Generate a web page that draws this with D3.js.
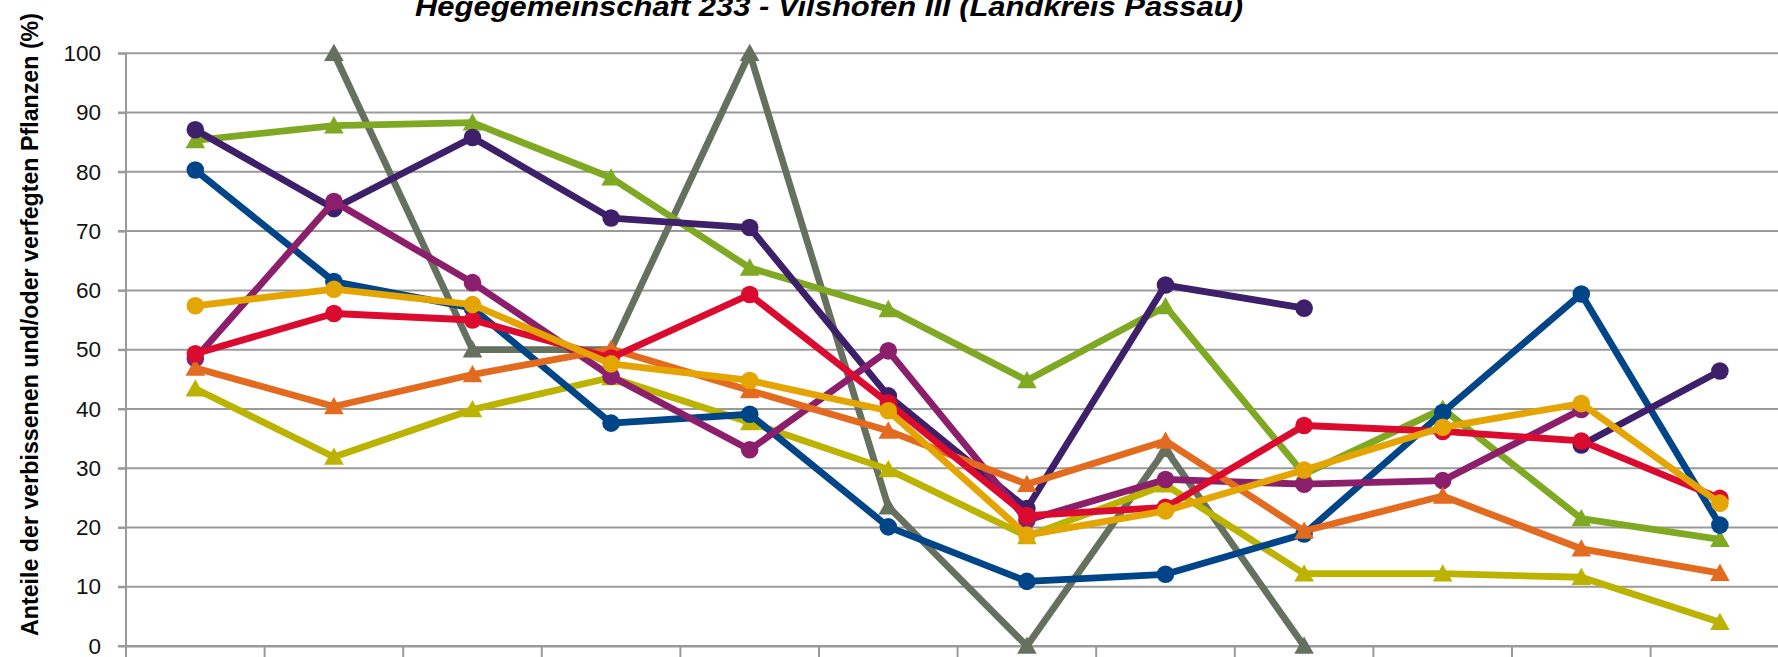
<!DOCTYPE html>
<html>
<head>
<meta charset="utf-8">
<script src="https://cdn.jsdelivr.net/npm/d3@7/dist/d3.min.js"></script>
<style>
  html, body { margin: 0; padding: 0; background: #fff; overflow: hidden; }
  svg { display: block; }
</style>
</head>
<body>
<svg id="chart" width="1778" height="657"></svg>
<script>
// ---- data ----
const categories = ["1991","1994","1997","2000","2003","2006","2009","2012","2015","2018","2021","2024"];
const yTicks = [0, 10, 20, 30, 40, 50, 60, 70, 80, 90, 100];

const seriesGray   = [null, 100, 50, 50, 100, 23.5, 0, 33.2, 0, null, null, null];
const seriesGreen  = [85.3, 87.8, 88.3, 79.0, 63.8, 56.8, 44.8, 57.3, 29.0, 40.0, 21.5, 18.0];
const seriesOlive  = [43.4, 31.9, 39.9, 45.3, 37.7, 29.8, 18.5, 27.2, 12.2, 12.2, 11.6, 4.0];
const seriesBlue   = [80.3, 61.5, 57.0, 37.6, 39.1, 20.1, 10.9, 12.1, 18.9, 39.4, 59.4, 20.4];
const seriesPurple = [87.1, 73.8, 85.8, 72.2, 70.6, 42.2, 23.2, 60.9, 57.0, null, 33.9, 46.4];
const seriesPlum   = [48.5, 75.0, 61.3, 45.5, 33.1, 49.8, 21.2, 28.1, 27.3, 27.9, 39.9, null];
const seriesOrange = [46.9, 40.4, 45.8, 50.1, 43.1, 36.3, 27.3, 34.6, 19.4, 25.3, 16.4, 12.3];
const seriesRed    = [49.3, 56.1, 55.0, 48.6, 59.3, 41.0, 22.0, 23.4, 37.2, 36.2, 34.6, 24.9];
const seriesGold   = [57.4, 60.2, 57.6, 47.6, 44.8, 39.7, 18.7, 22.8, 29.7, 36.9, 40.9, 24.1];

const titleText = "Hegegemeinschaft 233 - Vilshofen III (Landkreis Passau)";
const yTitleText = "Anteile der verbissenen und/oder verfegten Pflanzen (%)";

// drawing order (bottom to top) with colours and marker shapes
const series = [
  { values: seriesGray,   color: "#66705f", marker: "triangle" },
  { values: seriesGreen,  color: "#7fa823", marker: "triangle" },
  { values: seriesOlive,  color: "#bcb300", marker: "triangle" },
  { values: seriesBlue,   color: "#004588", marker: "circle" },
  { values: seriesPurple, color: "#3e1f69", marker: "circle" },
  { values: seriesPlum,   color: "#8c1f6b", marker: "circle" },
  { values: seriesOrange, color: "#e36b1f", marker: "triangle" },
  { values: seriesRed,    color: "#db0b2f", marker: "circle" },
  { values: seriesGold,   color: "#e4a503", marker: "circle" }
];

// ---- layout ----
const svg = d3.select("#chart");
const plotLeft = 126, bandW = 138.6;
const plotRight = plotLeft + bandW * categories.length;
const plotTop = 53.3, plotBottom = 646;

const x = d3.scaleBand().domain(categories).range([plotLeft, plotRight]).padding(0);
const y = d3.scaleLinear().domain([0, 100]).range([plotBottom, plotTop]);
const cx = c => x(c) + x.bandwidth() / 2;

const gridColor = "#9a9a9a";

// horizontal gridlines
svg.append("g")
  .selectAll("line").data(yTicks).join("line")
  .attr("x1", plotLeft - 8).attr("x2", plotRight)
  .attr("y1", d => y(d)).attr("y2", d => y(d))
  .attr("stroke", gridColor).attr("stroke-width", 2);

// y axis (vertical line + labels)
const yAxis = d3.axisLeft(y).tickValues(yTicks).tickSize(8).tickPadding(17).tickFormat(d3.format("d"));
const yg = svg.append("g").attr("transform", `translate(${plotLeft},0)`).call(yAxis);
yg.select(".domain").attr("stroke", gridColor).attr("stroke-width", 2).attr("d", `M0,${plotTop}V${plotBottom}`);
yg.selectAll(".tick line").attr("stroke", gridColor).attr("stroke-width", 2);
yg.selectAll(".tick text")
  .attr("font-family", "'Liberation Sans', Arial, sans-serif")
  .attr("font-size", 22.5).attr("fill", "#111");

// x axis (category labels lie below the visible area of the reference, so only line + ticks are drawn)
const xAxis = d3.axisBottom(x).tickSize(0).tickFormat("");
const xg = svg.append("g").attr("transform", `translate(0,${plotBottom})`).call(xAxis);
xg.select(".domain").attr("stroke", gridColor).attr("stroke-width", 2);
xg.selectAll(".tick text").remove();
const bounds = categories.map(c => x(c)).concat([plotRight]);
svg.append("g").selectAll("line").data(bounds).join("line")
  .attr("x1", d => d).attr("x2", d => d)
  .attr("y1", plotBottom).attr("y2", plotBottom + 14)
  .attr("stroke", gridColor).attr("stroke-width", 2);

// ---- series ----
const line = d3.line()
  .defined(d => d.v !== null)
  .x(d => cx(d.c)).y(d => y(d.v));

const triPath = "M0,-9.5L9.8,7.8L-9.8,7.8Z";

series.forEach(s => {
  const pts = s.values.map((v, i) => ({ c: categories[i], v }));
  const g = svg.append("g");
  g.append("path").datum(pts)
    .attr("d", line)
    .attr("fill", "none").attr("stroke", s.color)
    .attr("stroke-width", 6.8)
    .attr("stroke-linejoin", "round").attr("stroke-linecap", "round");
  const valid = pts.filter(d => d.v !== null);
  if (s.marker === "circle") {
    g.selectAll("circle").data(valid).join("circle")
      .attr("cx", d => cx(d.c)).attr("cy", d => y(d.v)).attr("r", 8.8)
      .attr("fill", s.color);
  } else {
    g.selectAll("path.m").data(valid).join("path").attr("class", "m")
      .attr("d", triPath)
      .attr("transform", d => `translate(${cx(d.c)},${y(d.v)})`)
      .attr("fill", s.color);
  }
});

// ---- titles ----
svg.append("text")
  .attr("x", 829).attr("y", 16)
  .attr("text-anchor", "middle")
  .attr("font-family", "'Liberation Sans', Arial, sans-serif")
  .attr("font-size", 28).attr("font-weight", "bold").attr("font-style", "italic")
  .attr("textLength", 828).attr("lengthAdjust", "spacingAndGlyphs")
  .attr("fill", "#000")
  .text(titleText);

svg.append("text")
  .attr("transform", "translate(38,324.5) rotate(-90)")
  .attr("text-anchor", "middle")
  .attr("font-family", "'Liberation Sans', Arial, sans-serif")
  .attr("font-size", 23.5).attr("font-weight", "bold")
  .attr("textLength", 623).attr("lengthAdjust", "spacingAndGlyphs")
  .attr("fill", "#000")
  .text(yTitleText);
</script>
</body>
</html>
